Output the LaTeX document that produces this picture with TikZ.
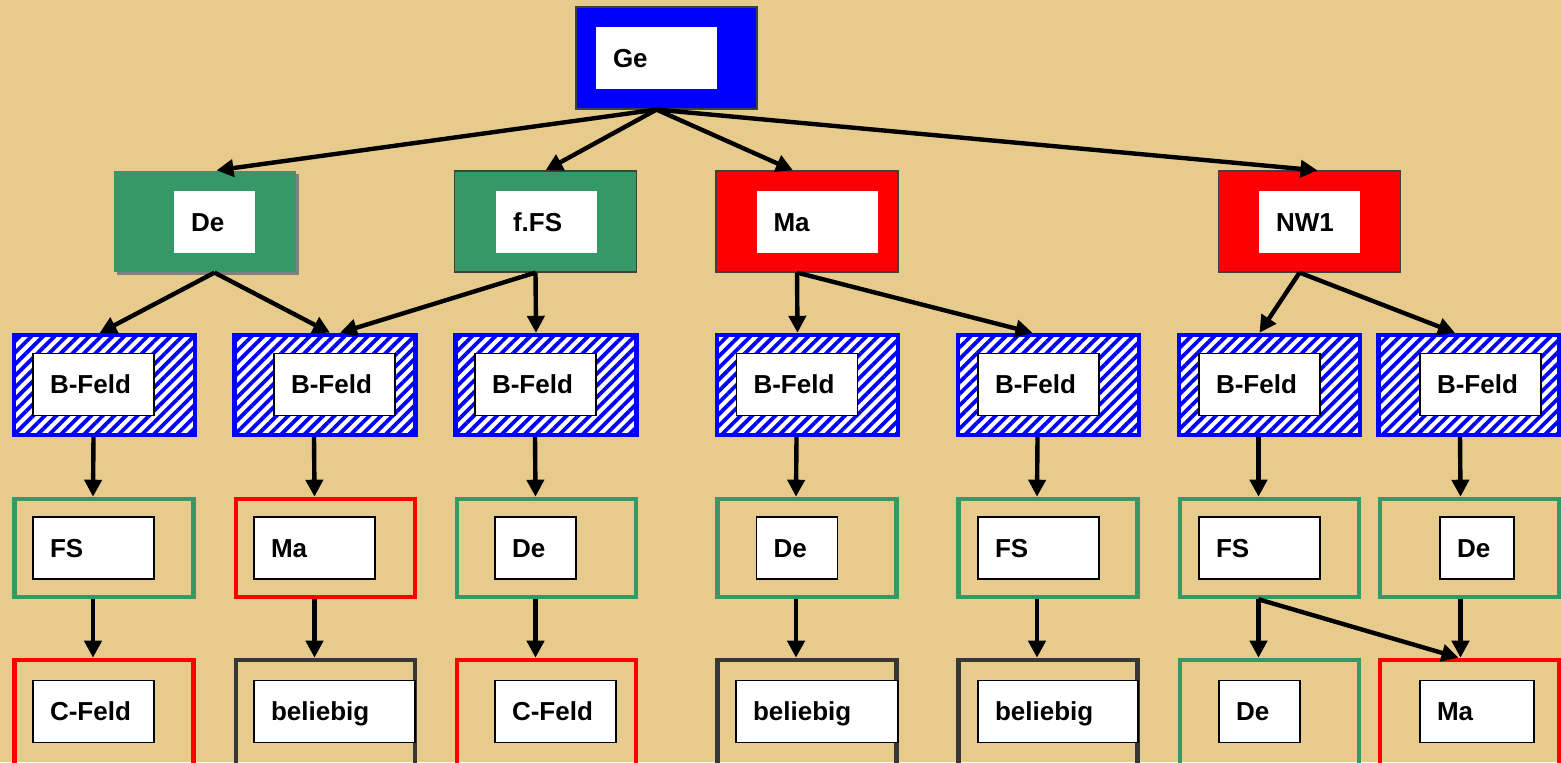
\documentclass[tikz,border=0pt]{standalone}
\usepackage{fontspec}
\setmainfont{Liberation Sans}
\usetikzlibrary{arrows.meta,patterns.meta,shadows}
\definecolor{papyrus}{RGB}{230,203,140}
\definecolor{gruen}{RGB}{52,153,102}
\definecolor{dunkel}{RGB}{55,55,55}
\tikzset{
kopf/.style={draw=black!75,line width=0.6pt,minimum width=91pt,minimum height=50.5pt,inner sep=0pt},
bfeld/.style={draw=blue,line width=2.2pt,preaction={fill=white},
  pattern={Lines[angle=45,distance=4.1pt,line width=1.9pt]},pattern color=blue,
  minimum width=90.5pt,minimum height=50pt,inner sep=0pt},
rahmen/.style={draw=#1,line width=2.3pt,minimum width=89.5pt,minimum height=49pt,inner sep=0pt},
unten/.style={rahmen=#1,minimum height=58pt},
etikett/.style={draw=black,line width=0.6pt,fill=white,minimum height=31pt,text width=#1,
  inner xsep=8.5pt,inner ysep=0pt,text height=9pt,text depth=0pt,align=left,
  font=\bfseries\fontsize{13}{15}\selectfont},
pfeil/.style={line width=2.2pt,-{Triangle[length=8.5pt,width=8.5pt]}}
}
\begin{document}
\begin{tikzpicture}[x=0.5pt,y=-0.5pt]
\fill[papyrus](0,0)rectangle(1561,762);
\useasboundingbox(0,0)rectangle(1561,762);
% oberste Ebene
\node[kopf,fill=blue,minimum width=90.5pt,minimum height=51pt](ge)at(666.5,58){};
\node[etikett=43.5pt,draw=none](get)at(656.5,58){Ge};
\node[kopf,draw=none,fill=gruen,general shadow={fill=gray,shadow xshift=1.7pt,shadow yshift=-1.7pt}](de)at(204.5,221.5){};
\node[etikett=23.5pt,draw=none](det)at(214.5,222){De};
\node[kopf,fill=gruen](ffs)at(545.5,221.5){};
\node[etikett=33.5pt,draw=none](ffst)at(546.5,222){f.FS};
\node[kopf,fill=red](ma)at(807,221.5){};
\node[etikett=43.5pt,draw=none](mat)at(817,222){Ma};
\node[kopf,fill=red](nw)at(1309.5,221.5){};
\node[etikett=33.5pt,draw=none](nwt)at(1309.5,222){NW1};
% B-Felder
\node[bfeld](b1)at(104.5,385){};\node[etikett=43.5pt](b1t)at(93.5,384.5){B-Feld};
\node[bfeld](b2)at(325,385){};\node[etikett=43.5pt](b2t)at(334.5,384.5){B-Feld};
\node[bfeld](b3)at(546,385){};\node[etikett=43.5pt](b3t)at(535.5,384.5){B-Feld};
\node[bfeld](b4)at(807.5,385){};\node[etikett=43.5pt](b4t)at(797,384.5){B-Feld};
\node[bfeld](b5)at(1048.5,385){};\node[etikett=43.5pt](b5t)at(1038.5,384.5){B-Feld};
\node[bfeld](b6)at(1269.5,385){};\node[etikett=43.5pt](b6t)at(1259.5,384.5){B-Feld};
\node[bfeld](b7)at(1469,385){};\node[etikett=43.5pt](b7t)at(1480.5,384.5){B-Feld};
% dritte Ebene
\node[rahmen=gruen](m1)at(104,548){};\node[etikett=43.5pt](m1t)at(93.5,548){FS};
\node[rahmen=red](m2)at(325.5,548){};\node[etikett=43.5pt](m2t)at(314.5,548){Ma};
\node[rahmen=gruen](m3)at(546.5,548){};\node[etikett=23.5pt](m3t)at(535.5,548){De};
\node[rahmen=gruen](m4)at(807,548){};\node[etikett=23.5pt](m4t)at(797,548){De};
\node[rahmen=gruen](m5)at(1048,548){};\node[etikett=43.5pt](m5t)at(1038.5,548){FS};
\node[rahmen=gruen](m6)at(1269.5,548){};\node[etikett=43.5pt](m6t)at(1259.5,548){FS};
\node[rahmen=gruen](m7)at(1469.5,548){};\node[etikett=20pt](m7t)at(1477,548){De};
% unterste Ebene
\node[unten=red](u1)at(104,718){};\node[etikett=43.5pt](u1t)at(93.5,711.5){C-Feld};
\node[unten=dunkel](u2)at(325.5,718){};\node[etikett=63.5pt](u2t)at(334.5,711.5){beliebig};
\node[unten=red](u3)at(546.5,718){};\node[etikett=43.5pt](u3t)at(555.5,711.5){C-Feld};
\node[unten=dunkel](u4)at(807,718){};\node[etikett=64pt](u4t)at(817,711.5){beliebig};
\node[unten=dunkel](u5)at(1048,718){};\node[etikett=63pt](u5t)at(1058,711.5){beliebig};
\node[unten=gruen](u6)at(1269.5,718){};\node[etikett=23.5pt](u6t)at(1259.5,711.5){De};
\node[unten=red](u7)at(1469.5,718){};\node[etikett=40pt](u7t)at(1477,711.5){Ma};
% Pfeile
\draw[pfeil]([xshift=-5pt]ge.south)--([xshift=6pt]de.north);
\draw[pfeil]([xshift=-5pt]ge.south)--(ffs.north);
\draw[pfeil]([xshift=-5pt]ge.south)--([xshift=-7pt]ma.north);
\draw[pfeil]([xshift=-5pt]ge.south)--([xshift=4pt]nw.north);
\draw[pfeil]([xshift=5pt]de.south)--([xshift=-2.5pt]b1.north);
\draw[pfeil]([xshift=5pt]de.south)--([xshift=2.5pt]b2.north);
\draw[pfeil]([xshift=-5pt]ffs.south)--([xshift=7.5pt]b2.north);
\draw[pfeil]([xshift=-5pt]ffs.south)--([xshift=-5pt]b3.north);
\draw[pfeil]([xshift=-5pt]ma.south)--([xshift=-5pt]b4.north);
\draw[pfeil]([xshift=-5pt]ma.south)--([xshift=-8pt]b5.north);
\draw[pfeil]([xshift=-5pt]nw.south)--([xshift=-5pt]b6.north);
\draw[pfeil]([xshift=-5pt]nw.south)--([xshift=-7pt]b7.north);
\draw[pfeil]([xshift=-5.5pt]b1.south)--([xshift=-5.5pt]m1.north);
\draw[pfeil]([xshift=-5.5pt]b2.south)--([xshift=-5.5pt]m2.north);
\draw[pfeil]([xshift=-5.5pt]b3.south)--([xshift=-5.5pt]m3.north);
\draw[pfeil]([xshift=-5.5pt]b4.south)--([xshift=-5.5pt]m4.north);
\draw[pfeil]([xshift=-5.5pt]b5.south)--([xshift=-5.5pt]m5.north);
\draw[pfeil]([xshift=-5.5pt]b6.south)--([xshift=-5.5pt]m6.north);
\draw[pfeil]([xshift=-4.5pt]b7.south)--([xshift=-4.5pt]m7.north);
\draw[pfeil]([xshift=-5.5pt]m1.south)--([xshift=-5.5pt]u1.north);
\draw[pfeil]([xshift=-5.5pt]m2.south)--([xshift=-5.5pt]u2.north);
\draw[pfeil]([xshift=-5.5pt]m3.south)--([xshift=-5.5pt]u3.north);
\draw[pfeil]([xshift=-5.5pt]m4.south)--([xshift=-5.5pt]u4.north);
\draw[pfeil]([xshift=-5.5pt]m5.south)--([xshift=-5.5pt]u5.north);
\draw[pfeil]([xshift=-5.5pt]m6.south)--([xshift=-5.5pt]u6.north);
\draw[pfeil]([xshift=-5.5pt]m6.south)--([xshift=-5.5pt]u7.north);
\draw[pfeil]([xshift=-4.5pt]m7.south)--([xshift=-4.5pt]u7.north);
\end{tikzpicture}
\end{document}
